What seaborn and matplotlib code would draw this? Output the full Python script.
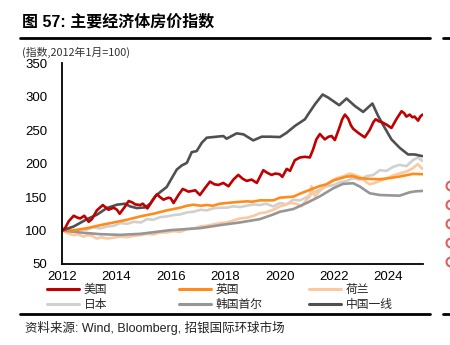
import numpy as np
import pandas as pd
import matplotlib
matplotlib.use("Agg")
import matplotlib.pyplot as plt
from matplotlib.lines import Line2D
from matplotlib.patches import Ellipse
import seaborn as sns

# ---------------- data ----------------
us_t = [2012.0, 2012.12, 2012.25, 2012.43, 2012.58, 2012.67, 2012.82, 2012.98, 2013.1, 2013.28, 2013.5, 2013.62,
        2013.71, 2013.9, 2014.02, 2014.12, 2014.32, 2014.45, 2014.58, 2014.69, 2014.87, 2014.97, 2015.14, 2015.3,
        2015.49, 2015.6, 2015.73, 2015.91, 2016.0, 2016.1, 2016.28, 2016.44, 2016.65, 2016.9, 2017.07, 2017.25,
        2017.44, 2017.6, 2017.75, 2017.93, 2018.12, 2018.3, 2018.48, 2018.65, 2018.79, 2018.97, 2019.16, 2019.4,
        2019.55, 2019.7, 2019.85, 2020.0, 2020.1, 2020.26, 2020.38, 2020.56, 2020.75, 2020.93, 2021.11, 2021.23,
        2021.35, 2021.48, 2021.66, 2021.8, 2021.91, 2022.03, 2022.21, 2022.3, 2022.40, 2022.52, 2022.62, 2022.70,
        2022.85, 2022.95, 2023.13, 2023.31, 2023.45, 2023.53, 2023.65, 2023.74, 2023.93, 2024.11, 2024.29, 2024.48,
        2024.58, 2024.66, 2024.78, 2024.88, 2024.96, 2025.09, 2025.17, 2025.25]
us_v = [100, 104, 114, 122, 119, 118, 122, 113, 117, 130, 138, 134,
        131, 134, 131, 125, 136, 144, 142, 139, 138, 140, 133, 143,
        154, 150, 146, 149, 148, 141, 153, 162, 158, 160, 153, 163,
        173, 169, 168, 171, 166, 176, 183, 177, 174, 176, 171, 190,
        186, 183, 185, 184, 180, 192, 189, 205, 209, 210, 209, 221,
        236, 244, 236, 240, 241, 235, 255, 266, 273, 267, 257, 252,
        247, 244, 239, 250, 262, 266, 263, 262, 258, 253, 266, 278,
        275, 270, 273, 269, 270, 264, 270, 273]

uk_t = [2012.0, 2012.5, 2012.92, 2013.41, 2013.9, 2014.39, 2014.87, 2015.36, 2015.85, 2016.34, 2016.6, 2016.83,
        2017.1, 2017.32, 2017.55, 2017.81, 2018.3, 2018.79, 2019.0, 2019.28, 2019.77, 2020.01, 2020.5, 2020.75,
        2021.1, 2021.45, 2021.72, 2022.0, 2022.46, 2022.7, 2022.95, 2023.31, 2023.68, 2024.0, 2024.41, 2024.9,
        2025.25]
uk_v = [100, 100.5, 103.5, 108, 112, 116, 121, 125, 130, 134, 137, 138.5,
        137, 138, 137, 140, 142, 143.5, 143, 145, 145, 149, 150.5, 155,
        160.5, 166, 169, 175, 180.5, 181, 178, 177, 176.5, 178, 180.5, 184.5,
        184]

nl_t = [2012.0, 2012.2, 2012.43, 2012.6, 2012.79, 2012.95, 2013.1, 2013.28, 2013.45, 2013.65, 2013.85, 2014.14,
        2014.4, 2014.63, 2014.9, 2015.12, 2015.35, 2015.61, 2015.85, 2016.1, 2016.34, 2016.6, 2016.85, 2017.07,
        2017.3, 2017.55, 2017.81, 2018.05, 2018.3, 2018.54, 2018.8, 2019.05, 2019.28, 2019.5, 2019.77, 2020.01,
        2020.2, 2020.38, 2020.62, 2020.8, 2020.99, 2021.1, 2021.17, 2021.3, 2021.5, 2021.72, 2021.9, 2022.09,
        2022.35, 2022.58, 2022.75, 2022.95, 2023.15, 2023.31, 2023.5, 2023.68, 2023.9, 2024.17, 2024.4, 2024.66,
        2024.9, 2025.08, 2025.25]
nl_v = [100, 96, 93, 94, 91, 93, 92, 88, 90, 88, 89, 91,
        90, 92, 93, 95, 94, 97, 97, 99, 98, 102, 103, 106,
        107, 109, 111, 112, 115, 118, 119, 122, 126, 127, 131, 136,
        138, 141, 140, 136, 146, 150, 166, 151, 160, 168, 174, 178,
        181, 185, 183, 180, 173, 169, 171, 174, 177, 182, 185, 188,
        193, 199, 192]

jp_t = [2012.0, 2012.3, 2012.67, 2012.9, 2013.16, 2013.4, 2013.65, 2013.9, 2014.14, 2014.4, 2014.63, 2014.9,
        2015.12, 2015.35, 2015.61, 2015.85, 2016.1, 2016.34, 2016.6, 2016.83, 2017.1, 2017.32, 2017.55, 2017.81,
        2018.05, 2018.3, 2018.55, 2018.79, 2019.05, 2019.28, 2019.5, 2019.77, 2020.01, 2020.25, 2020.5, 2020.75,
        2021.0, 2021.23, 2021.48, 2021.72, 2022.0, 2022.21, 2022.46, 2022.7, 2022.95, 2023.19, 2023.45, 2023.68,
        2023.93, 2024.17, 2024.41, 2024.66, 2024.9, 2025.08, 2025.25]
jp_v = [100, 100, 102, 101, 105, 103, 106, 107, 111, 110, 113, 112,
        117, 116, 120, 121, 123, 124, 127, 128, 131, 130, 133, 134,
        134, 136, 135, 137, 139, 138, 140, 136, 141, 139, 146, 145,
        150, 156, 161, 166, 168, 172, 174, 178, 176, 181, 183, 190,
        189, 195, 198, 196, 205, 209, 204]

kr_t = [2012.0, 2012.67, 2013.41, 2014.14, 2014.87, 2015.48, 2015.97, 2016.34, 2017.07, 2017.81, 2018.54, 2019.28,
        2019.77, 2020.01, 2020.26, 2020.5, 2020.99, 2021.48, 2021.97, 2022.33, 2022.7, 2022.95, 2023.31, 2023.68,
        2024.0, 2024.41, 2024.78, 2025.0, 2025.25]
kr_v = [100, 97, 94.5, 93.5, 95, 98, 100.5, 101.5, 103.5, 108, 112, 117,
        124, 128, 130, 132, 141, 151, 163, 169.6, 170.6, 165.6, 155.6, 153,
        152.5, 152, 157, 158.5, 159]

cn_t = [2012.0, 2012.43, 2012.92, 2013.28, 2013.65, 2014.02, 2014.32, 2014.5, 2014.75, 2015.06, 2015.24, 2015.42,
        2015.6, 2015.85, 2016.04, 2016.22, 2016.4, 2016.59, 2016.77, 2016.95, 2017.14, 2017.32, 2017.56, 2017.93,
        2018.05, 2018.42, 2018.67, 2019.03, 2019.34, 2019.64, 2020.01, 2020.26, 2020.56, 2020.93, 2021.05, 2021.3,
        2021.58, 2021.78, 2022.19, 2022.46, 2022.76, 2023.07, 2023.41, 2023.62, 2023.86, 2024.11, 2024.41, 2024.72,
        2024.96, 2025.25]
cn_v = [100, 106, 117, 123.5, 133.5, 138.5, 140, 136, 133.5, 134.5, 140, 151,
        157, 165, 178.5, 191, 197, 201, 217, 218.5, 231, 238.5, 239.5, 241,
        237, 245, 243.5, 234.5, 240, 240, 239.5, 246, 256, 266, 273.5, 288.5,
        303, 298.5, 287, 297, 286, 277, 289.5, 271, 253.5, 236, 223.5, 213.5,
        213.5, 211]

series_names = ["美国", "英国", "荷兰", "日本", "韩国首尔", "中国一线"]
series_colors = ["#c00000", "#ff8c1a", "#fcc8a0", "#d0d0d0", "#969696", "#505050"]
series_data = [(us_t, us_v), (uk_t, uk_v), (nl_t, nl_v), (jp_t, jp_v), (kr_t, kr_v), (cn_t, cn_v)]
y_ticks = [50, 100, 150, 200, 250, 300, 350]
x_ticks = [2012, 2014, 2016, 2018, 2020, 2022, 2024]

# ---------------- style ----------------
sns.set_style("white")
plt.rcParams["font.family"] = ["Liberation Sans", "Noto Sans CJK SC", "DejaVu Sans"]
plt.rcParams["axes.unicode_minus"] = False

W, H = 450, 345
fig = plt.figure(figsize=(4.5, 3.45), dpi=100)
fig.patch.set_facecolor("white")
ax = fig.add_axes([62 / W, 1 - 264 / H, (423 - 62) / W, (264 - 63) / H])

df = pd.concat([pd.DataFrame({"t": t, "v": v, "s": n}) for (t, v), n in zip(series_data, series_names)],
               ignore_index=True)

# draw order: light ones first, strong ones on top
draw_order = ["日本", "荷兰", "韩国首尔", "英国", "中国一线", "美国"]
handles = {}
for name in draw_order:
    i = series_names.index(name)
    sub = df[df["s"] == name]
    sns.lineplot(data=sub, x="t", y="v", ax=ax, color=series_colors[i], linewidth=1.9,
                 estimator=None, sort=True, legend=False)
    handles[name] = Line2D([], [], color=series_colors[i], linewidth=2.2)

ax.set_xlim(2012, 2025.27)
ax.set_ylim(50, 350)
ax.set_xticks(x_ticks)
ax.set_xticklabels([str(x) for x in x_ticks])
ax.set_yticks(y_ticks)
ax.set_yticklabels([str(y) for y in y_ticks])
ax.set_xlabel("")
ax.set_ylabel("")
for s in ["top", "right"]:
    ax.spines[s].set_visible(False)
for s in ["left", "bottom"]:
    ax.spines[s].set_color("black")
    ax.spines[s].set_linewidth(1.3)
ax.tick_params(axis="y", direction="out", length=3.5, width=1.0, color="black", pad=7,
               labelsize=9.5, labelcolor="black")
ax.tick_params(axis="x", direction="out", length=0, pad=5, labelsize=9.5, labelcolor="black")
ax.grid(False)

# ---------------- legends (3 columns) ----------------
cols = [["美国", "日本"], ["英国", "韩国首尔"], ["荷兰", "中国一线"]]
col_x = [47, 179, 309]
for names, cx in zip(cols, col_x):
    fig.legend([handles[n] for n in names], names, loc="upper left",
               bbox_to_anchor=(cx / W, 1 - 283 / H), frameon=False,
               handlelength=2.75, handletextpad=0.35, labelspacing=0.15,
               borderpad=0, borderaxespad=0, prop={"family": ["Noto Sans CJK SC"], "size": 8.5})

# ---------------- titles, rules, source ----------------
fig.text(22 / W, 1 - 22 / H, "图 57: 主要经济体房价指数", fontsize=11.5, fontweight="bold",
         va="center", ha="left", color="black")
fig.text(22 / W, 1 - 52 / H, "(指数,2012年1月=100)", fontsize=7.8, va="center", ha="left",
         color="#333333", family=["Noto Sans CJK SC"])
fig.add_artist(Line2D([20 / W, 430 / W], [1 - 37.5 / H] * 2, color="black", linewidth=2.0))
fig.add_artist(Line2D([20 / W, 430 / W], [1 - 313.5 / H] * 2, color="black", linewidth=2.0))
fig.text(25 / W, 1 - 328 / H, "资料来源: Wind, Bloomberg, 招银国际环球市场", fontsize=9,
         va="center", ha="left", color="#222222")

# fragments of the neighbouring panel at the right edge
fig.add_artist(Line2D([443 / W, 452 / W], [1 - 37.5 / H] * 2, color="black", linewidth=2.0))
fig.add_artist(Line2D([443 / W, 452 / W], [1 - 313.5 / H] * 2, color="black", linewidth=2.0))
for yy in [186, 205, 224, 243, 262]:
    fig.add_artist(Ellipse((451 / W, 1 - yy / H), 9 / W, 9 / H, facecolor="none",
                           edgecolor="#e06060", linewidth=1.5, transform=fig.transFigure))

fig.savefig("out.png", dpi=100, facecolor="white")
